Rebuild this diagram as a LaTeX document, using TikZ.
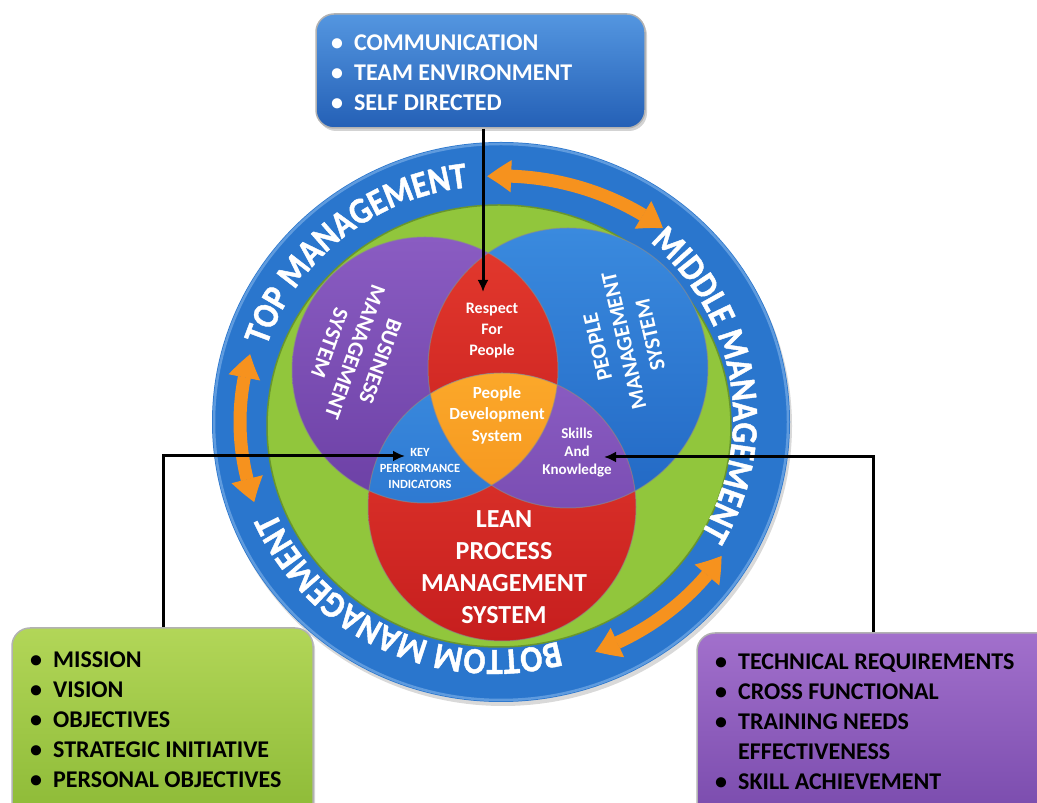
\documentclass[tikz,border=0pt]{standalone}
\usepackage{fontspec}
\setmainfont{Carlito}
\newfontfamily\ringfont[FakeStretch=0.88,FakeBold=1.2]{Carlito Bold}
\usetikzlibrary{arrows.meta,bending,decorations.text,shadows,calc}
\definecolor{ringblue}{RGB}{42,118,205}
\definecolor{ringedge}{RGB}{95,155,222}
\definecolor{ringgreen}{RGB}{145,198,60}
\definecolor{greenedge}{RGB}{105,150,45}
\definecolor{purpT}{RGB}{138,92,194}
\definecolor{purpB}{RGB}{108,64,165}
\definecolor{bluT}{RGB}{58,138,222}
\definecolor{bluB}{RGB}{34,104,196}
\definecolor{redT}{RGB}{228,58,46}
\definecolor{redB}{RGB}{198,30,30}
\definecolor{orT}{RGB}{251,168,42}
\definecolor{orB}{RGB}{240,132,18}
\definecolor{arrorange}{RGB}{246,146,30}
\definecolor{bxblueT}{RGB}{84,150,224}
\definecolor{bxblueB}{RGB}{36,96,182}
\definecolor{bxgreenT}{RGB}{178,214,88}
\definecolor{bxgreenB}{RGB}{138,184,52}
\definecolor{bxpurpT}{RGB}{162,112,204}
\definecolor{bxpurpB}{RGB}{118,72,170}
\begin{document}
\begin{tikzpicture}[x=1pt,y=1pt,
  boxbase/.style={rounded corners=18pt, draw=black!30, line width=1.5pt, inner sep=0pt,
    drop shadow={shadow xshift=2pt,shadow yshift=-3pt,opacity=0.35}},
  topboxst/.style={boxbase, top color=bxblueT, bottom color=bxblueB},
  leftboxst/.style={boxbase, top color=bxgreenT, bottom color=bxgreenB},
  rightboxst/.style={boxbase, top color=bxpurpT, bottom color=bxpurpB},
  listtxt/.style={inner sep=0pt, anchor=north west, align=left,
    font=\fontsize{24}{30}\selectfont\bfseries},
  conn/.style={draw=black, line width=3pt, -{Latex[length=12pt,width=11pt]}},
  ringarrow/.style={draw=arrorange, line width=13pt,
    {Triangle[width=32pt,length=24pt,line width=1pt,bend]}-{Triangle[width=32pt,length=24pt,line width=1pt,bend]}},
  venntxt/.style={text=white, align=center, inner sep=0pt},
  vedge/.style={draw=black!45, line width=1pt, opacity=0.6},
  ringtext/.style={decorate, decoration={text along path, text align=center,
    text={|\ringfont\fontsize{37}{37}\selectfont\color{white}|#1}}}
]
\useasboundingbox (0,0) rectangle (1037,803);

% ---- outer ring ----
\coordinate (ringc) at (501,381);
\coordinate (greenc) at (499,377);
\coordinate (textc) at (494,385);
\fill[ringblue, drop shadow={shadow xshift=2pt,shadow yshift=-4pt,opacity=0.3}]
  (ringc) ellipse [x radius=289, y radius=280];
\draw[ringedge, line width=2.5pt] (ringc) ellipse [x radius=287, y radius=278];
\fill[ringgreen] (greenc) ellipse [x radius=232, y radius=221];
\draw[greenedge, line width=1.5pt] (greenc) ellipse [x radius=232, y radius=221];

% ---- ring texts ----
\path[ringtext={TOP MANAGEMENT}] (textc) ++(190:239 and 232)
  arc[start angle=190, end angle=69, x radius=239, y radius=232];
\path[ringtext={MIDDLE MANAGEMENT}] (textc) ++(69.5:239 and 232)
  arc[start angle=69.5, end angle=-50.5, x radius=239, y radius=232];
\path[ringtext={BOTTOM MANAGEMENT}] (textc) ++(-55.5:239 and 232)
  arc[start angle=-55.5, end angle=-175.5, x radius=239, y radius=232];

% ---- ring arrows ----
\draw[ringarrow] (ringc) ++(93:263 and 246) arc[start angle=93, end angle=52, x radius=263, y radius=246];
\draw[ringarrow] (ringc) ++(164:261 and 246) arc[start angle=164, end angle=199, x radius=261, y radius=246];
\draw[ringarrow] (ringc) ++(-69:263 and 246) arc[start angle=-69, end angle=-33, x radius=263, y radius=246];

% ---- Venn circles ----
\coordinate (pc) at (425,433);
\coordinate (bc) at (568,435);
\coordinate (rc) at (502,296);
\path[top color=purpT, bottom color=purpB] (pc) circle[radius=133];
\path[top color=bluT, bottom color=bluB] (bc) circle[radius=140];
\path[top color=redT, bottom color=redB] (rc) circle[radius=134];
\begin{scope}
  \clip (pc) circle[radius=133];
  \path[top color=redT, bottom color=redB] (bc) circle[radius=140];
\end{scope}
\begin{scope}
  \clip (pc) circle[radius=133];
  \path[top color=bluT, bottom color=bluB] (rc) circle[radius=134];
\end{scope}
\begin{scope}
  \clip (bc) circle[radius=140];
  \path[top color=purpT, bottom color=purpB] (rc) circle[radius=134];
\end{scope}
\begin{scope}
  \clip (pc) circle[radius=133];
  \clip (bc) circle[radius=140];
  \path[top color=orT, bottom color=orB] (rc) circle[radius=134];
\end{scope}
\draw[vedge] (pc) circle[radius=133];
\draw[vedge] (bc) circle[radius=140];
\draw[vedge] (rc) circle[radius=134];

% ---- Venn texts ----
\node[venntxt, rotate=-110, font=\fontsize{22}{27}\selectfont\bfseries] (bms) at (355,451)
  {BUSINESS\\MANAGEMENT\\SYSTEM};
\node[venntxt, rotate=103, font=\fontsize{22}{27}\selectfont\bfseries] (pms) at (624,462)
  {PEOPLE\\MANAGEMENT\\SYSTEM};
\node[venntxt, font=\fontsize{16}{21}\selectfont\bfseries] (rfp) at (492,472)
  {Respect\\For\\People};
\node[venntxt, font=\fontsize{17}{21.5}\selectfont\bfseries] (pds) at (497,388)
  {People\\Development\\System};
\node[venntxt, font=\fontsize{12.5}{16}\selectfont\bfseries] (kpi) at (420,335)
  {KEY\\PERFORMANCE\\INDICATORS};
\node[venntxt, font=\fontsize{15}{18}\selectfont\bfseries] (sak) at (577,350)
  {Skills\\And\\Knowledge};
\node[venntxt, font=\fontsize{26}{32}\selectfont\bfseries] (lpms) at (504,236)
  {LEAN\\PROCESS\\MANAGEMENT\\SYSTEM};

% ---- boxes ----
\node[topboxst, minimum width=329pt, minimum height=114pt] (topbox) at (480.5,732) {};
\node[leftboxst, minimum width=301pt, minimum height=205pt] (leftbox) at (162.5,72.5) {};
\node[rightboxst, minimum width=368pt, minimum height=200pt] (rightbox) at (881,70) {};

\node[listtxt, text=white] (toplist) at (331,773.5)
  {\begin{tabular}{@{}l@{\hspace{11pt}}l@{}}•&COMMUNICATION\\•&TEAM ENVIRONMENT\\•&SELF DIRECTED\end{tabular}};
\node[listtxt, text=black] (leftlist) at (30,156.5)
  {\begin{tabular}{@{}l@{\hspace{11pt}}l@{}}•&MISSION\\•&VISION\\•&OBJECTIVES\\•&STRATEGIC INITIATIVE\\•&PERSONAL OBJECTIVES\end{tabular}};
\node[listtxt, text=black] (rightlist) at (715,154.5)
  {\begin{tabular}{@{}l@{\hspace{11pt}}l@{}}•&TECHNICAL REQUIREMENTS\\•&CROSS FUNCTIONAL\\•&TRAINING NEEDS\\&EFFECTIVENESS\\•&SKILL ACHIEVEMENT\end{tabular}};

% ---- connectors ----
\coordinate (respTip) at (483,511);
\coordinate (lbend) at (163,347);
\coordinate (kpiTip) at (405,347);
\coordinate (rbend) at (873,346);
\coordinate (skTip) at (604,346);
\draw[conn] (topbox.south -| respTip) -- (respTip);
\draw[conn] (leftbox.north -| lbend) -- (lbend) -- (kpiTip);
\draw[conn] (rightbox.north -| rbend) -- (rbend) -- (skTip);
\end{tikzpicture}
\end{document}
